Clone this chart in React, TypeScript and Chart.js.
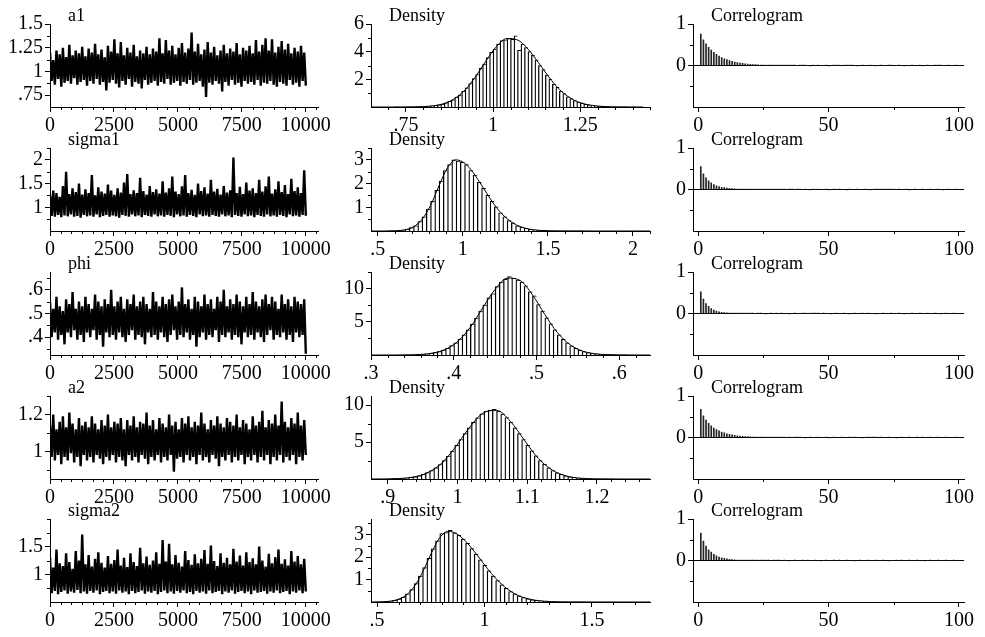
import React, { useEffect, useRef } from "react";
import { Chart, registerables } from "chart.js";

Chart.register(...registerables);

const FONT = "'Liberation Serif', 'Times New Roman', Times, serif";

// ---------------- DATA ----------------
const paramNames = ["a1", "sigma1", "phi", "a2", "sigma2"];

// MCMC traces (alternating local highs / lows read along the iteration axis)
const traceA1 = [1.20,0.90,1.12,0.86,1.22,0.92,1.18,0.84,1.25,0.88,1.15,0.90,1.28,0.87,1.17,0.93,1.22,0.86,1.19,0.89,1.26,0.91,1.16,0.85,1.24,0.90,1.20,0.87,1.29,0.92,1.18,0.86,1.23,0.89,1.15,0.80,1.27,0.88,1.21,0.91,1.34,0.87,1.19,0.83,1.31,0.90,1.17,0.86,1.25,0.92,1.20,0.84,1.28,0.89,1.16,0.87,1.22,0.82,1.19,0.91,1.26,0.86,1.18,0.88,1.24,0.90,1.21,0.85,1.35,0.89,1.19,0.87,1.33,0.92,1.22,0.86,1.27,0.88,1.18,0.90,1.25,0.85,1.30,0.89,1.20,0.87,1.24,0.91,1.41,0.86,1.21,0.88,1.29,0.90,1.18,0.84,1.23,0.73,1.31,0.88,1.20,0.86,1.26,0.90,1.17,0.87,1.22,0.79,1.28,0.89,1.19,0.85,1.24,0.91,1.21,0.86,1.30,0.88,1.18,0.84,1.25,0.90,1.22,0.87,1.27,0.89,1.19,0.86,1.33,0.91,1.21,0.85,1.28,0.88,1.35,0.87,1.22,0.90,1.34,0.86,1.20,0.84,1.26,0.89,1.32,0.87,1.23,0.85,1.29,0.91,1.19,0.86,1.25,0.88,1.21,0.84,1.27,0.90,1.20,0.85];
const traceS1 = [1.25,0.82,1.35,0.80,1.30,0.84,1.22,0.79,1.45,0.83,1.75,0.81,1.28,0.85,1.40,0.80,1.32,0.82,1.50,0.78,1.27,0.84,1.38,0.81,1.30,0.83,1.68,0.80,1.25,0.85,1.42,0.79,1.33,0.82,1.29,0.84,1.48,0.80,1.35,0.83,1.26,0.81,1.40,0.78,1.31,0.84,1.52,0.82,1.70,0.80,1.28,0.85,1.36,0.81,1.30,0.83,1.62,0.79,1.34,0.84,1.27,0.82,1.45,0.80,1.32,0.85,1.38,0.81,1.29,0.83,1.55,0.80,1.31,0.84,1.40,0.82,1.65,0.79,1.33,0.85,1.28,0.81,1.44,0.83,1.68,0.80,1.30,0.84,1.37,0.82,1.26,0.79,1.50,0.85,1.34,0.81,1.42,0.83,1.29,0.80,1.58,0.84,1.33,0.82,1.39,0.80,1.27,0.85,1.45,0.81,1.31,0.83,1.36,0.79,2.05,0.84,1.30,0.82,1.43,0.80,1.28,0.85,1.52,0.81,1.35,0.83,1.40,0.79,1.30,0.84,1.58,0.82,1.33,0.80,1.44,0.85,1.65,0.81,1.29,0.83,1.38,0.80,1.55,0.84,1.32,0.82,1.47,0.79,1.28,0.85,1.60,0.81,1.34,0.83,1.42,0.80,1.30,0.84,1.78,0.82];
const tracePhi = [.55,.40,.52,.42,.57,.39,.53,.41,.51,.37,.56,.42,.54,.40,.59,.43,.52,.39,.55,.41,.53,.38,.57,.42,.54,.40,.52,.43,.58,.39,.55,.41,.53,.36,.56,.42,.54,.40,.60,.41,.53,.39,.55,.42,.57,.40,.52,.38,.56,.41,.54,.43,.58,.39,.53,.41,.55,.40,.57,.37,.54,.42,.52,.40,.59,.41,.55,.39,.53,.42,.57,.40,.54,.38,.56,.41,.58,.43,.53,.39,.55,.41,.61,.40,.54,.42,.56,.39,.52,.41,.57,.36,.55,.40,.53,.42,.58,.39,.54,.41,.56,.40,.52,.43,.57,.38,.55,.41,.60,.40,.53,.42,.56,.39,.54,.41,.58,.40,.55,.37,.53,.42,.57,.40,.54,.41,.59,.39,.55,.42,.53,.40,.56,.38,.58,.41,.54,.43,.57,.39,.55,.41,.52,.40,.58,.42,.54,.39,.56,.41,.53,.38,.57,.42,.55,.40,.54,.41,.56,.33];
const traceA2 = [1.14,0.97,1.20,0.95,1.12,0.98,1.16,0.93,1.19,0.97,1.13,0.95,1.21,0.99,1.15,0.94,1.12,0.97,1.18,0.92,1.14,0.98,1.16,0.95,1.13,0.97,1.19,0.94,1.15,0.98,1.12,0.96,1.17,0.93,1.14,0.97,1.20,0.95,1.13,0.98,1.16,0.94,1.15,0.97,1.18,0.95,1.12,0.92,1.17,0.98,1.14,0.95,1.19,0.97,1.13,0.94,1.16,0.98,1.15,0.96,1.21,0.93,1.14,0.97,1.17,0.95,1.12,0.98,1.18,0.94,1.15,0.97,1.13,0.95,1.20,0.98,1.14,0.89,1.16,0.96,1.12,0.97,1.18,0.94,1.15,0.98,1.19,0.95,1.13,0.97,1.16,0.93,1.14,0.98,1.21,0.95,1.15,0.97,1.12,0.94,1.17,0.98,1.14,0.96,1.19,0.92,1.15,0.97,1.13,0.95,1.18,0.98,1.16,0.94,1.14,0.97,1.20,0.95,1.13,0.98,1.17,0.93,1.15,0.97,1.12,0.95,1.19,0.98,1.14,0.94,1.16,0.97,1.22,0.95,1.13,0.98,1.17,0.93,1.15,0.97,1.20,0.95,1.14,0.98,1.27,0.94,1.16,0.97,1.13,0.95,1.18,0.98,1.15,0.93,1.21,0.97,1.14,0.95,1.17,0.98];
const traceS2 = [1.30,0.66,1.12,0.70,1.45,0.64,1.20,0.68,1.15,0.71,1.38,0.65,1.22,0.69,1.10,0.67,1.42,0.72,1.25,0.66,1.72,0.69,1.18,0.65,1.35,0.70,1.14,0.67,1.28,0.71,1.40,0.64,1.21,0.68,1.12,0.70,1.33,0.66,1.19,0.69,1.26,0.65,1.45,0.71,1.16,0.67,1.30,0.69,1.13,0.64,1.38,0.70,1.22,0.66,1.15,0.68,1.48,0.71,1.20,0.65,1.32,0.69,1.17,0.67,1.25,0.70,1.40,0.64,1.19,0.68,1.62,0.71,1.23,0.66,1.55,0.69,1.18,0.65,1.35,0.70,1.21,0.67,1.14,0.71,1.42,0.66,1.26,0.68,1.17,0.64,1.36,0.70,1.20,0.67,1.28,0.69,1.44,0.65,1.19,0.71,1.52,0.66,1.24,0.68,1.15,0.70,1.38,0.64,1.21,0.69,1.30,0.67,1.18,0.71,1.46,0.65,1.23,0.68,1.34,0.70,1.16,0.66,1.40,0.69,1.22,0.64,1.29,0.71,1.18,0.67,1.50,0.68,1.25,0.70,1.14,0.65,1.37,0.69,1.20,0.67,1.31,0.71,1.45,0.66,1.19,0.68,1.27,0.70,1.16,0.64,1.42,0.69,1.23,0.67,1.33,0.71,1.18,0.66,1.28,0.69];

// trace axes
const traceXRange = [0, 10500];
const traceXTicks = [0, 2500, 5000, 7500, 10000];
const traceXMinor = [417,833,1250,1667,2083,2917,3333,3750,4167,4583,5417,5833,6250,6667,7083,7917,8333,8750,9167,9583,10417];
const traceYRangeA1 = [0.625, 1.5], traceYTicksA1 = [0.75, 1, 1.25, 1.5], traceYMinorA1 = [0.875, 1.125, 1.375];
const traceYRangeS1 = [0.5, 2.25], traceYTicksS1 = [1, 1.5, 2], traceYMinorS1 = [0.75, 1.25, 1.75, 2.25];
const traceYRangePhi = [0.325, 0.675], traceYTicksPhi = [0.4, 0.5, 0.6], traceYMinorPhi = [0.35, 0.45, 0.55, 0.65];
const traceYRangeA2 = [0.85, 1.3], traceYTicksA2 = [1, 1.2], traceYMinorA2 = [0.9, 1.1, 1.3];
const traceYRangeS2 = [0.5, 2], traceYTicksS2 = [1, 1.5], traceYMinorS2 = [0.75, 1.25, 1.75, 2];

// histograms: first bin start, bin width, heights
const histStartA1 = 0.65, histWidthA1 = 0.01;
const histA1 = [0,0,0,0,0,0,0,0.005,0,0.005,0.005,0.01,0.01,0.015,0.02,0.035,0.05,0.08,0.12,0.16,0.21,0.31,0.41,0.52,0.71,0.86,1.15,1.38,1.70,2.05,2.35,2.80,3.10,3.58,3.95,4.18,4.55,4.80,4.85,4.95,4.90,5.15,4.10,4.55,4.30,4.00,3.75,3.40,3.00,2.70,2.30,2.02,1.65,1.43,1.15,0.97,0.74,0.60,0.47,0.35,0.28,0.20,0.15,0.11,0.08,0.06,0.04,0.03,0.02,0.015,0.01,0.01,0.005,0.005,0,0.005,0,0,0,0];
const histStartS1 = 0.46, histWidthS1 = 0.025;
const histS1 = [0,0,0,0,0.003,0.008,0.02,0.035,0.07,0.14,0.22,0.40,0.60,0.92,1.25,1.72,2.10,2.55,2.80,3.00,2.95,2.90,2.80,2.55,2.36,2.05,1.80,1.50,1.25,1.02,0.77,0.60,0.44,0.34,0.22,0.17,0.11,0.07,0.05,0.03,0.02,0.015,0.01,0.01,0.006,0.005,0.004,0.003,0.002,0.002,0.001,0.001,0,0.001,0,0,0.001,0,0,0,0,0,0,0,0,0.001];
const histStartPhi = 0.3, histWidthPhi = 0.005;
const histPhi = [0,0,0,0,0,0,0.005,0.005,0.01,0.02,0.04,0.06,0.10,0.16,0.24,0.36,0.51,0.74,1.01,1.40,1.82,2.40,3.05,3.80,4.64,5.55,6.60,7.50,8.60,9.20,10.30,11.00,11.40,11.80,11.60,11.30,10.97,10.40,9.50,8.90,7.60,6.60,5.60,4.70,3.80,3.05,2.36,1.82,1.37,1.02,0.72,0.52,0.36,0.24,0.16,0.11,0.07,0.045,0.03,0.02,0.01,0.01,0.005,0.005,0,0.005,0];
const histStartA2 = 0.876, histWidthA2 = 0.006;
const histA2 = [0,0,0,0.005,0.01,0.04,0.06,0.10,0.14,0.21,0.30,0.44,0.62,0.86,1.15,1.52,1.97,2.50,3.10,3.80,4.57,5.35,6.15,6.95,7.67,8.30,8.83,9.20,9.35,9.45,9.19,8.80,8.32,7.70,6.95,6.15,5.35,4.55,3.83,3.15,2.50,1.98,1.51,1.15,0.85,0.62,0.44,0.31,0.21,0.14,0.09,0.06,0.04,0.03,0.02,0.015,0.01,0.01,0.005,0.005,0,0.005,0,0,0,0.005,0];
const histStartS2 = 0.472, histWidthS2 = 0.02;
const histS2 = [0.002,0.004,0.009,0.02,0.04,0.07,0.13,0.22,0.36,0.55,0.82,1.15,1.53,1.95,2.37,2.73,3.05,3.10,3.20,3.08,2.97,2.81,2.61,2.38,2.14,1.88,1.63,1.39,1.16,0.95,0.77,0.61,0.47,0.36,0.27,0.20,0.145,0.10,0.07,0.05,0.035,0.025,0.018,0.013,0.01,0.008,0.006,0.005,0.004,0.003,0.002,0.002,0.002,0.001,0.001,0.001,0.001,0,0.001,0,0,0.001,0,0,0.001];

// kernel density curves: start, step, values
const kdeStartA1 = 0.65, kdeStepA1 = 0.03;
const kdeA1 = [0,0,0,0.002,0.01,0.03,0.09,0.25,0.61,1.24,2.2,3.34,4.37,4.95,4.85,4.19,3.21,2.17,1.28,0.67,0.31,0.13,0.046,0.015,0.004,0.001,0];
const kdeStartS1 = 0.46, kdeStepS1 = 0.05;
const kdeS1 = [0,0,0.002,0.012,0.05,0.18,0.49,1.08,1.91,2.67,3.0,2.86,2.47,1.93,1.37,0.88,0.52,0.27,0.13,0.058,0.024,0.009,0.003,0.002,0.001,0.001,0,0,0,0,0,0,0,0];
const kdeStartPhi = 0.3, kdeStepPhi = 0.015;
const kdePhi = [0,0,0.004,0.02,0.085,0.30,0.85,2.07,4.19,7.1,9.9,11.58,11.23,9.07,6.09,3.4,1.58,0.61,0.195,0.052,0.012,0.002,0,0];
const kdeStartA2 = 0.876, kdeStepA2 = 0.02;
const kdeA2 = [0,0.01,0.064,0.25,0.80,2.03,4.19,6.83,8.9,9.3,7.8,5.24,2.77,1.2,0.41,0.11,0.025,0.004,0,0,0];
const kdeStartS2 = 0.472, kdeStepS2 = 0.04;
const kdeS2 = [0,0.006,0.026,0.097,0.28,0.67,1.33,2.16,2.87,3.15,3.03,2.71,2.26,1.76,1.27,0.86,0.54,0.31,0.17,0.087,0.04,0.018,0.008,0.003,0.001,0,0,0,0,0,0,0,0,0];

// density axes
const densXRangeA1 = [0.65, 1.45], densXTicksA1 = [0.75, 1, 1.25], densXMinorA1 = [0.7,0.8,0.85,0.9,0.95,1.05,1.1,1.15,1.2,1.3,1.35,1.4,1.45];
const densXRangeS1 = [0.46, 2.1], densXTicksS1 = [0.5, 1, 1.5, 2], densXMinorS1 = [0.6,0.7,0.8,0.9,1.1,1.2,1.3,1.4,1.6,1.7,1.8,1.9,2.1];
const densXRangePhi = [0.3, 0.637], densXTicksPhi = [0.3, 0.4, 0.5, 0.6], densXMinorPhi = [0.32,0.34,0.36,0.38,0.42,0.44,0.46,0.48,0.52,0.54,0.56,0.58,0.62];
const densXRangeA2 = [0.876, 1.276], densXTicksA2 = [0.9, 1, 1.1, 1.2], densXMinorA2 = [0.92,0.94,0.96,0.98,1.02,1.04,1.06,1.08,1.12,1.14,1.16,1.18,1.22,1.24,1.26];
const densXRangeS2 = [0.472, 1.77], densXTicksS2 = [0.5, 1, 1.5], densXMinorS2 = [0.6,0.7,0.8,0.9,1.1,1.2,1.3,1.4,1.6,1.7];
const densYRangeA1 = [0, 6], densYTicksA1 = [2, 4, 6], densYMinorA1 = [1, 3, 5];
const densYRangeS1 = [0, 3.5], densYTicksS1 = [1, 2, 3], densYMinorS1 = [0.5, 1.5, 2.5, 3.5];
const densYRangePhi = [0, 12.5], densYTicksPhi = [5, 10], densYMinorPhi = [2.5, 7.5, 12.5];
const densYRangeA2 = [0, 11.25], densYTicksA2 = [5, 10], densYMinorA2 = [2.5, 7.5];
const densYRangeS2 = [0, 3.7], densYTicksS2 = [1, 2, 3], densYMinorS2 = [0.5, 1.5, 2.5, 3.5];

// autocorrelations, lags 1..100
const acA1 = [.76,.62,.52,.44,.37,.32,.27,.23,.19,.16,.14,.12,.10,.085,.07,.06,.05,.04,.035,.03,.025,.02,.015,.012,.01,.008,.006,.005,.004,.004,.003,.002,.002,.003,.001,.002,.001,0,.001,.002,.001,0,-.001,.001,0,.001,0,0,.001,-.001,0,.001,.002,.001,0,.001,.002,.002,.001,0,-.001,0,.001,0,0,.001,0,-.001,0,.001,0,0,.001,.001,0,0,.001,0,-.001,0,0,.001,0,0,.001,-.001,0,.001,0,0,.001,.002,.001,0,0,.001,0,0,.001,0];
const acS1 = [.55,.38,.28,.21,.16,.12,.09,.07,.055,.045,.035,.028,.022,.017,.013,.01,.008,.006,.005,.004,.003,.002,.004,.003,.002,.001,.003,.004,.002,.001,.002,.003,.001,0,.002,.001,0,.001,.002,0,.001,0,-.001,.001,0,.001,0,0,.001,-.001,0,.001,0,.001,0,0,-.001,.001,0,0,.001,0,0,.001,0,-.001,0,.001,.002,.003,.002,.001,.003,.002,.001,0,.001,0,0,.001,-.001,0,.001,0,0,.001,0,0,.001,0,0,.001,0,-.001,0,.001,0,0,.001,0];
const acPhi = [.52,.35,.24,.17,.12,.085,.06,.043,.03,.022,.016,.012,.009,.007,.005,.004,.003,.002,.002,.001,.001,0,.002,.001,0,-.001,0,.001,0,.001,0,.001,0,0,-.001,0,.001,0,0,.001,.001,0,.002,.001,.002,.001,0,.001,0,0,-.001,0,.001,0,0,.001,0,-.001,0,.001,0,0,.001,0,.001,0,0,-.001,0,0,.001,0,0,.001,0,0,.001,0,-.001,0,0,.001,0,0,.001,0,0,.001,0,0,.001,0,-.001,0,.001,0,0,.001,0,0];
const acA2 = [.68,.52,.42,.34,.28,.23,.19,.16,.13,.11,.09,.075,.063,.052,.043,.036,.03,.025,.02,.016,.013,.01,.008,.006,.005,.004,.003,.003,.002,.002,.001,.002,.001,0,.001,0,.001,.002,.001,0,-.001,0,.001,0,0,.001,0,0,.001,-.001,0,.001,0,0,.001,0,0,.001,0,.001,0,0,-.001,0,.001,.001,.002,.001,0,.001,0,0,.001,0,0,-.001,0,.001,0,0,.001,0,0,.001,0,.001,0,0,.001,0,0,.001,0,0,.001,0,0,0,.001,0];
const acS2 = [.66,.47,.35,.26,.20,.15,.11,.085,.065,.05,.038,.029,.022,.017,.013,.01,.008,.006,.005,.004,.003,.003,.002,.002,.001,.002,.001,0,.001,.002,.001,0,.001,0,-.001,0,.001,0,0,.001,0,.001,0,0,.001,0,-.001,0,.001,0,0,.001,0,.001,0,0,.001,0,0,-.001,0,.001,0,0,.001,0,0,.001,0,0,.001,0,-.001,0,0,.001,0,.001,0,0,.001,0,0,.001,0,0,-.001,0,.001,0,0,.001,0,0,.001,0,0,.001,0,0];
const acXRange = [-2, 102], acXTicks = [0, 50, 100], acXMinor = [25, 75];
const acYRange = [-1, 1], acYTicks = [0, 1], acYMinor = [-0.5, 0.5];

// ---------------- LAYOUT ----------------
const ROW_BOTTOMS = [107, 231, 355, 479, 602];
const PLOT_H = 83;
const PLOT_W = 279;
const COL_AX = [50, 371, 693];
const YW = 50, PT = 22, PR = 4, XH = 34;

const fmt = (v: number) => {
  let s = String(Math.round(v * 1e6) / 1e6);
  if (s.startsWith("0.")) s = s.slice(1);
  else if (s.startsWith("-0.")) s = "-" + s.slice(2);
  return s;
};

const decor = {
  id: "decor",
  afterDraw(chart: any, _args: any, opts: any) {
    const { ctx, chartArea: ca, scales } = chart;
    ctx.save();
    ctx.strokeStyle = "#000";
    ctx.lineWidth = 1;
    ctx.beginPath();
    for (const v of opts.xMinor || []) {
      const px = Math.round(scales.x.getPixelForValue(v)) + 0.5;
      ctx.moveTo(px, ca.bottom);
      ctx.lineTo(px, ca.bottom + 3);
    }
    for (const v of opts.yMinor || []) {
      const py = Math.round(scales.y.getPixelForValue(v)) + 0.5;
      ctx.moveTo(ca.left, py);
      ctx.lineTo(ca.left - 3, py);
    }
    ctx.stroke();
    ctx.fillStyle = "#000";
    ctx.font = `18px ${FONT}`;
    ctx.textAlign = "left";
    ctx.textBaseline = "alphabetic";
    ctx.fillText(opts.title, ca.left + 18, ca.top - 3);
    ctx.restore();
  },
};

function scaleOpts(pos: "left" | "bottom", range: number[], ticks: number[], zeroLine = false) {
  return {
    type: "linear",
    position: pos,
    min: range[0],
    max: range[1],
    offset: false,
    afterBuildTicks: (s: any) => {
      s.ticks = ticks.map((v) => ({ value: v }));
    },
    afterFit: (s: any) => {
      if (pos === "left") s.width = YW;
      else s.height = XH;
    },
    ticks: {
      callback: (v: any) => fmt(Number(v)),
      font: { family: FONT, size: 20 },
      color: "#000",
      padding: 2,
      autoSkip: false,
      maxRotation: 0,
      minRotation: 0,
    },
    grid: {
      offset: false,
      drawOnChartArea: zeroLine,
      drawTicks: true,
      tickLength: 5,
      lineWidth: 1,
      color: zeroLine ? (c: any) => (c.tick && c.tick.value === 0 ? "#000" : "rgba(0,0,0,0)") : "#000",
      tickColor: "#000",
    },
    border: { display: true, color: "#000", width: 1 },
  };
}

function baseOptions(x: any, y: any, decorOpts: any) {
  return {
    animation: false,
    responsive: false,
    maintainAspectRatio: false,
    events: [],
    layout: { padding: { top: PT, right: PR, left: 0, bottom: 0 } },
    plugins: { legend: { display: false }, tooltip: { enabled: false }, decor: decorOpts },
    scales: { x, y },
  };
}

const traces = [traceA1, traceS1, tracePhi, traceA2, traceS2];
const traceYRanges = [traceYRangeA1, traceYRangeS1, traceYRangePhi, traceYRangeA2, traceYRangeS2];
const traceYTicks = [traceYTicksA1, traceYTicksS1, traceYTicksPhi, traceYTicksA2, traceYTicksS2];
const traceYMinors = [traceYMinorA1, traceYMinorS1, traceYMinorPhi, traceYMinorA2, traceYMinorS2];
const hists = [histA1, histS1, histPhi, histA2, histS2];
const histStarts = [histStartA1, histStartS1, histStartPhi, histStartA2, histStartS2];
const histWidths = [histWidthA1, histWidthS1, histWidthPhi, histWidthA2, histWidthS2];
const kdes = [kdeA1, kdeS1, kdePhi, kdeA2, kdeS2];
const kdeStarts = [kdeStartA1, kdeStartS1, kdeStartPhi, kdeStartA2, kdeStartS2];
const kdeSteps = [kdeStepA1, kdeStepS1, kdeStepPhi, kdeStepA2, kdeStepS2];
const densXRanges = [densXRangeA1, densXRangeS1, densXRangePhi, densXRangeA2, densXRangeS2];
const densXTicks = [densXTicksA1, densXTicksS1, densXTicksPhi, densXTicksA2, densXTicksS2];
const densXMinors = [densXMinorA1, densXMinorS1, densXMinorPhi, densXMinorA2, densXMinorS2];
const densYRanges = [densYRangeA1, densYRangeS1, densYRangePhi, densYRangeA2, densYRangeS2];
const densYTicks = [densYTicksA1, densYTicksS1, densYTicksPhi, densYTicksA2, densYTicksS2];
const densYMinors = [densYMinorA1, densYMinorS1, densYMinorPhi, densYMinorA2, densYMinorS2];
const acs = [acA1, acS1, acPhi, acA2, acS2];

function traceConfig(r: number) {
  const vals = traces[r];
  const n = vals.length;
  return {
    type: "line",
    data: {
      datasets: [
        {
          data: vals.map((v, j) => ({ x: 1 + (j * 9999) / (n - 1), y: v })),
          borderColor: "#000",
          borderWidth: 2.4,
          pointRadius: 0,
          tension: 0,
          borderJoinStyle: "miter",
        },
      ],
    },
    options: baseOptions(
      scaleOpts("bottom", traceXRange, traceXTicks),
      scaleOpts("left", traceYRanges[r], traceYTicks[r]),
      { title: paramNames[r], xMinor: traceXMinor, yMinor: traceYMinors[r] }
    ),
  };
}

function densityConfig(r: number) {
  const h = hists[r], hs = histStarts[r], hw = histWidths[r];
  const k = kdes[r], ks = kdeStarts[r], kst = kdeSteps[r];
  return {
    type: "bar",
    data: {
      datasets: [
        {
          type: "line",
          order: 0,
          data: k.map((v, j) => ({ x: ks + j * kst, y: v })),
          borderColor: "#000",
          borderWidth: 1,
          pointRadius: 0,
          cubicInterpolationMode: "monotone",
        },
        {
          type: "bar",
          order: 1,
          data: h.map((v, j) => ({ x: hs + (j + 0.5) * hw, y: v })),
          backgroundColor: "#fff",
          borderColor: "#000",
          borderWidth: { top: 1, left: 1.3, right: 0, bottom: 0 },
          borderSkipped: false,
          barPercentage: 1,
          categoryPercentage: 1,
        },
      ],
    },
    options: baseOptions(
      scaleOpts("bottom", densXRanges[r], densXTicks[r]),
      scaleOpts("left", densYRanges[r], densYTicks[r]),
      { title: "Density", xMinor: densXMinors[r], yMinor: densYMinors[r] }
    ),
  };
}

function acConfig(r: number) {
  const a = acs[r];
  return {
    type: "bar",
    data: {
      datasets: [
        {
          data: a.map((v, j) => ({ x: j + 1, y: v })),
          backgroundColor: "#222",
          borderWidth: 0,
          barThickness: 1,
        },
      ],
    },
    options: baseOptions(
      scaleOpts("bottom", acXRange, acXTicks),
      scaleOpts("left", acYRange, acYTicks, true),
      { title: "Correlogram", xMinor: acXMinor, yMinor: acYMinor }
    ),
  };
}

type Spec = { left: number; top: number; width: number; height: number; build: () => any };

const SPECS: Spec[] = [];
for (let r = 0; r < 5; r++) {
  const top = ROW_BOTTOMS[r] - PLOT_H - PT;
  const builders = [() => traceConfig(r), () => densityConfig(r), () => acConfig(r)];
  for (let c = 0; c < 3; c++) {
    SPECS.push({
      left: COL_AX[c] - YW,
      top,
      width: YW + PLOT_W + PR,
      height: PT + PLOT_H + XH,
      build: builders[c],
    });
  }
}

function Panel({ spec }: { spec: Spec }) {
  const ref = useRef<HTMLCanvasElement>(null);
  useEffect(() => {
    if (!ref.current) return;
    const cfg = spec.build();
    cfg.plugins = [decor];
    const chart = new Chart(ref.current, cfg as any);
    return () => chart.destroy();
  }, [spec]);
  return (
    <canvas
      ref={ref}
      width={spec.width}
      height={spec.height}
      style={{ position: "absolute", left: spec.left, top: spec.top, width: spec.width, height: spec.height }}
    />
  );
}

export default function App() {
  return (
    <div
      style={{
        position: "fixed",
        left: 0,
        top: 0,
        width: 985,
        height: 637,
        background: "#fff",
        overflow: "hidden",
      }}
    >
      {SPECS.map((s, i) => (
        <Panel key={i} spec={s} />
      ))}
    </div>
  );
}
